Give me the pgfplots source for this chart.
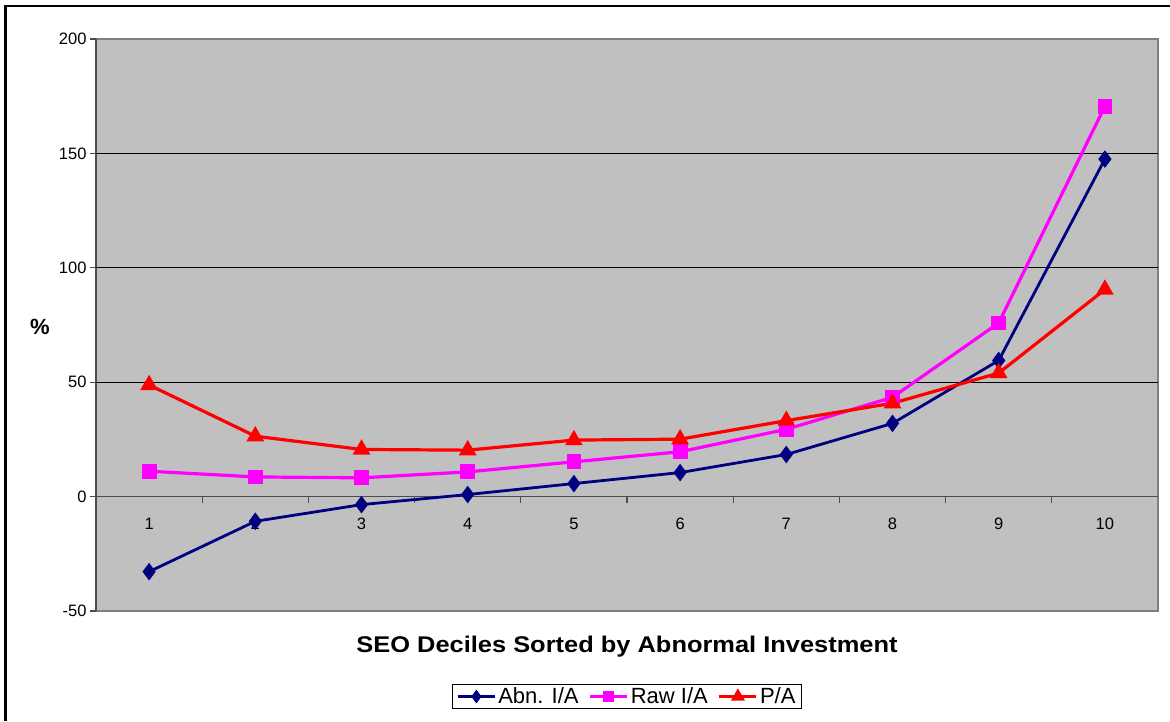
\documentclass[border=0pt]{standalone}
\usepackage{fontspec}
\setmainfont{Liberation Sans}
\usepackage{pgfplots}
\pgfplotsset{compat=1.18}

\definecolor{plotgray}{HTML}{C0C0C0}
\definecolor{framegray}{HTML}{808080}
\definecolor{abnblue}{HTML}{000080}
\definecolor{rawpink}{HTML}{FF00FF}
\definecolor{pared}{HTML}{FF0000}

% decile results (%)
\pgfplotstableread{
dec abn raw pa
1  -32.8  11.1  48.8
2  -10.8   8.6  26.4
3   -3.5   8.2  20.6
4    0.9  10.8  20.3
5    5.7  15.2  24.7
6   10.5  19.6  25.1
7   18.4  29.4  33.2
8   32.0  43.4  40.8
9   59.5  75.9  54.0
10 147.5 170.6  90.5
}\deciles

\begin{document}
\begin{tikzpicture}[x=1pt,y=1pt]
\path[use as bounding box] (0,0) rectangle (1170,721);
\draw[line width=2.5pt] (5.5,0) -- (5.5,715) -- (1170,715);
\begin{axis}[
  at={(96pt,110pt)}, anchor=south west,
  scale only axis, width=1062pt, height=572pt,
  xmin=0.5, xmax=10.5, ymin=-50, ymax=200,
  axis x line=middle, axis y line=left,
  axis line style={-, line width=1.5pt, color=black!70},
  axis background/.style={fill=plotgray, draw=framegray, line width=1.5pt},
  xtick={1,...,10},
  xticklabels={1,2,3,4,5,6,7,8,9,10},
  major x tick style={draw=none},
  minor xtick={1.5,2.5,...,9.5},
  minor x tick style={line width=1.2pt, color=black!70},
  minor tick length=6pt,
  xtick align=outside,
  xticklabel style={font=\fontsize{16.5}{19}\selectfont, anchor=north, yshift=-12pt},
  ytick={-50,0,50,100,150,200},
  yticklabels={-50,0,50,100,150,200},
  ytick align=outside,
  major tick length=6pt,
  y tick style={line width=1.2pt, color=black!70},
  yticklabel style={font=\fontsize{16.5}{19}\selectfont},
  extra y ticks={50,100,150},
  extra y tick labels={},
  extra y tick style={grid=major, major tick length=0pt},
  grid style={black, line width=1.2pt},
  legend style={at={(0.5,-0.1495)}, anchor=center, draw=black, line width=1pt,
    fill=white, font=\fontsize{22}{26}\selectfont, inner xsep=4pt, inner ysep=1pt,
    /tikz/every even column/.append style={column sep=8pt}},
  legend columns=3,
  legend cell align=left,
  legend image code/.code={
    \draw[mark repeat=2, mark phase=2, #1, mark options={solid, scale=0.7}]
      plot coordinates {(0pt,0pt) (18.5pt,0pt) (37pt,0pt)};
  },
]
\addplot[abnblue, line width=2.8pt, mark=diamond*, mark size=6.5pt]
  table[x=dec, y=abn] {\deciles};
\addlegendentry{Abn. I/A}
\addplot[rawpink, line width=3.2pt, mark=square*, mark size=5.8pt]
  table[x=dec, y=raw] {\deciles};
\addlegendentry{Raw I/A}
\addplot[pared, line width=3.2pt, mark=triangle*, mark size=7pt]
  table[x=dec, y=pa] {\deciles};
\addlegendentry{P/A}
\end{axis}
\node[font=\bfseries\fontsize{22}{26}\selectfont] at (40,394) {\%};
\node[font=\bfseries\fontsize{22.7}{27}\selectfont] at (627,74)
  {\scalebox{1.12}[1]{SEO Deciles Sorted by Abnormal Investment}};
\end{tikzpicture}
\end{document}
